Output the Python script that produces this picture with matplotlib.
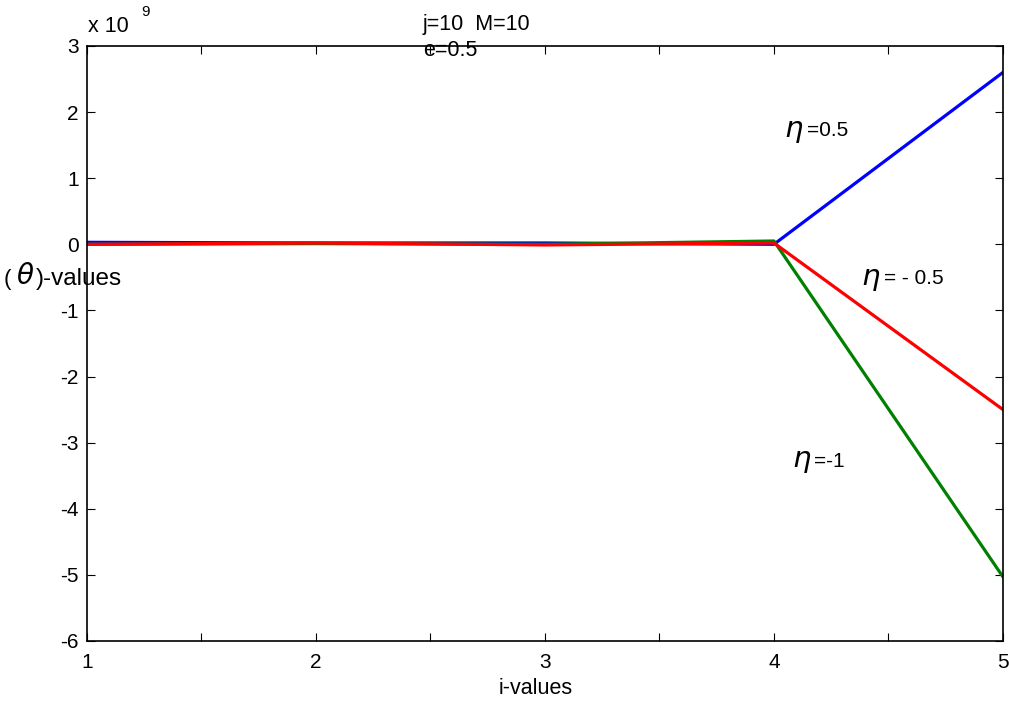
import numpy as np
import matplotlib.pyplot as plt

plt.rcParams['font.family'] = ['Liberation Sans', 'DejaVu Sans']

# data (in units of 1e9)
i_vals = [1, 2, 3, 4, 5]
theta_pos05 = [0.03, 0.02, 0.02, 0.0, 2.6]
theta_neg1 = [0.0, 0.01, 0.0, 0.05, -5.03]
theta_neg05 = [0.0, 0.02, -0.01, 0.02, -2.5]

xticks = [1, 1.5, 2, 2.5, 3, 3.5, 4, 4.5, 5]
xticklabels = ['1', '', '2', '', '3', '', '4', '', '5']
yticks = [-6, -5, -4, -3, -2, -1, 0, 1, 2, 3]

fig = plt.figure(figsize=(10.09, 7.07), dpi=100)
ax = fig.add_axes([0.0862, 0.0934, 0.9078, 0.8416])

ax.plot(i_vals, theta_pos05, color='#0000ff', lw=2.3)
ax.plot(i_vals, theta_neg1, color='#008000', lw=2.3)
ax.plot(i_vals, theta_neg05, color='#ff0000', lw=2.3)

ax.set_xlim(1, 5)
ax.set_ylim(-6, 3)
ax.set_xticks(xticks)
ax.set_xticklabels(xticklabels)
ax.set_yticks(yticks)
ax.set_yticklabels([str(v) for v in yticks])
ax.tick_params(direction='in', length=6, width=0.8, labelsize=15,
               top=True, right=True)
ax.tick_params(axis='x', pad=9)
ax.tick_params(axis='y', pad=6)
for s in ax.spines.values():
    s.set_linewidth(1.2)

# x label, nudged slightly left of the axes centre like the original
fig.text(0.531, 0.012, 'i-values', fontsize=15.5, va='bottom', ha='center')

fig.text(0.004, 0.605, '(', fontsize=16, va='center', ha='left')
fig.text(0.0155, 0.609, r'$\theta$', fontsize=20, va='center', ha='left',
         family='DejaVu Serif')
fig.text(0.036, 0.605, ')-values', fontsize=17.5, va='center', ha='left')

fig.text(0.087, 0.948, 'x 10', fontsize=15.5, va='bottom', ha='left')
fig.text(0.140, 0.973, '9', fontsize=11, va='bottom', ha='left')

fig.text(0.419, 0.951, 'j=10  M=10', fontsize=15.5, va='bottom', ha='left')
fig.text(0.419, 0.914, 'e=0.5', fontsize=15.5, va='bottom', ha='left')

ax.text(4.045, 1.72, r'$\eta$', fontsize=21, va='center', ha='left')
ax.text(4.145, 1.72, '=0.5', fontsize=15, va='center', ha='left')
ax.text(4.38, -0.52, r'$\eta$', fontsize=21, va='center', ha='left')
ax.text(4.48, -0.52, '= - 0.5', fontsize=15, va='center', ha='left')
ax.text(4.08, -3.28, r'$\eta$', fontsize=21, va='center', ha='left')
ax.text(4.175, -3.28, '=-1', fontsize=15, va='center', ha='left')

fig.savefig('out.png', dpi=100)
